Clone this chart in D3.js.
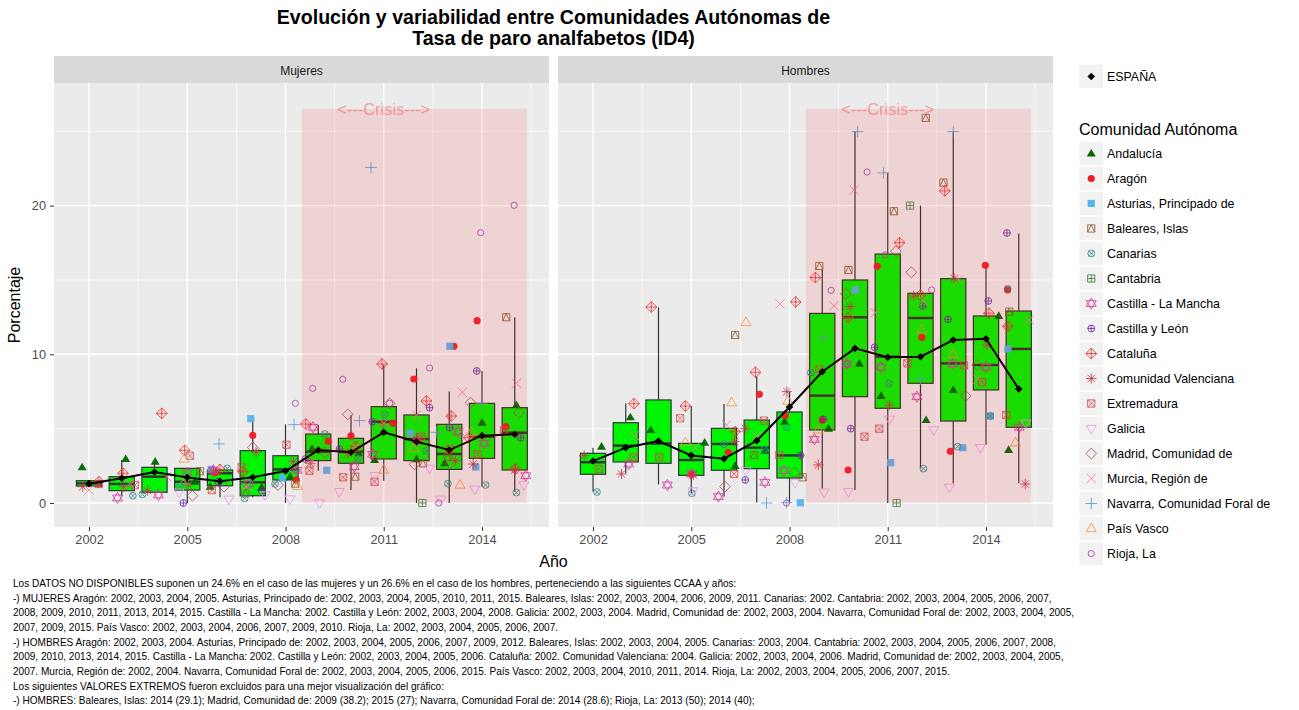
<!DOCTYPE html>
<html><head><meta charset="utf-8">
<script src="https://cdn.jsdelivr.net/npm/d3@7"></script>
<style>html,body{margin:0;padding:0;background:#fff}svg{display:block}text{font-family:"Liberation Sans",Arial,sans-serif}</style>
</head><body><svg id="c" width="1299" height="710"></svg>
<script>
const years = [2002,2003,2004,2005,2006,2007,2008,2009,2010,2011,2012,2013,2014,2015];
const xTicks = [2002,2005,2008,2011,2014];
const xMinor = [2003.5,2006.5,2009.5,2012.5,2015.5];
const yTicks = [0,10,20];
const yMinor = [5,15,25];

// Box statistics: women
const mLo  = [1.14,0.45,0.72,0,0.38,0.38,0,2.17,0.87,1.5,0,0,1.1,0.76];
const mQ1  = [1.14,0.83,0.72,0.87,1.16,0.49,1.55,2.85,2.67,2.96,2.85,2.26,3.0,2.22];
const mMed = [1.32,1.28,1.77,1.43,2.0,1.39,2.26,3.45,3.45,5.47,4.3,3.3,4.46,4.73];
const mQ3  = [1.5,1.77,2.4,2.33,2.22,3.52,3.18,4.64,4.35,6.48,5.92,5.29,6.7,6.41];
const mHi  = [1.5,2.89,2.75,2.33,2.22,5.58,5.29,5.25,5.92,9.28,9.06,7.49,8.88,12.49];
const mEsp = [1.3,1.66,2.08,1.72,1.46,1.73,2.15,3.56,3.41,4.75,4.12,3.56,4.53,4.62];
// Box statistics: men
const hLo  = [0.76,2.0,1.25,0.65,0.42,0.04,0.04,0.98,0.87,0,2.33,1.32,3.9,1.32];
const hQ1  = [1.93,2.76,2.67,1.86,2.2,2.31,1.68,4.91,7.15,6.37,8.05,5.51,7.6,5.09];
const hMed = [2.74,3.86,4.0,2.89,3.97,3.72,3.2,7.22,12.49,9.84,12.44,9.39,9.28,10.36];
const hQ3  = [3.34,5.4,6.93,4.01,5.02,5.58,6.12,12.75,15.0,16.74,14.1,15.09,12.58,12.91];
const hHi  = [3.72,6.7,13.16,6.52,6.66,8.5,7.49,15.67,24.97,22.2,20.0,24.97,16.0,18.13];
const hEsp = [2.82,3.72,4.17,3.2,2.98,4.19,6.46,8.83,10.4,9.8,9.84,10.96,11.05,7.67];

const regions = ["Andalucía","Aragón","Asturias, Principado de","Baleares, Islas","Canarias","Cantabria","Castilla - La Mancha","Castilla y León","Cataluña","Comunidad Valenciana","Extremadura","Galicia","Madrid, Comunidad de","Murcia, Región de","Navarra, Comunidad Foral de","País Vasco","Rioja, La"];
const regionColors = ["#006400","#ee1c25","#56b4e9","#8b5a2b","#2e8b87","#3f7f3f","#d63aa0","#6a2aa6","#f22c2c","#c0384a","#d9444b","#ee99ee","#a85050","#f57a9a","#5b9bd0","#f59340","#a040b0"];
const regionShapes = [17,16,15,14,13,12,11,10,9,8,7,6,5,4,3,2,1];

// Observed points: [jittered year, percent]
const mAnd = [[2001.79,2.4],[2003.12,2.96],[2004.02,2.78],[2005.23,1.43],[2005.7,1.1],[2007.27,1.05],[2008.14,1.77],[2008.81,3.63],[2010.23,3.34],[2010.72,2.89],[2012,2.94],[2012.86,2.67],[2014,5.4],[2015.05,6.59]];
const mAra = [[2005.85,2.04],[2007,4.55],[2008.33,1.55],[2009.3,4.15],[2010,4.51],[2011.28,5.36],[2011.92,8.34],[2013.14,10.54],[2013.85,12.26],[2014.73,5.13]];
const mAst = [[2005.73,2.26],[2006.94,5.67],[2007.9,1.68],[2009.26,2.2],[2011.82,4.69],[2013.02,10.54],[2013.81,2.42]];
const mBal = [[2005.39,2.13],[2006.77,0.65],[2008.3,1.3],[2010.13,1.77],[2012.2,2.67],[2012.95,3.1],[2014.74,12.49]];
const mCan = [[2003.34,0.49],[2003.63,0.58],[2004.78,1.1],[2006.22,2.33],[2006.75,0.31],[2007.68,1.28],[2009.2,4.64],[2010.21,3.0],[2011.03,5.96],[2012.3,3.5],[2012.96,1.3],[2014.11,1.21],[2015.05,0.7]];
const mCnt = [[2012.18,0]];
const mClm = [[2002.87,0.34],[2004.12,0.54],[2005,2.04],[2005.8,2.2],[2006.87,1.28],[2008.35,2.2],[2008.84,5.09],[2010.1,2.44],[2010.66,3.27],[2012.02,4.19],[2013.27,4.8],[2014.06,4.01],[2015.34,1.84]];
const mCyl = [[2004.88,0],[2005.95,1.43],[2007.28,0.83],[2008.61,2.96],[2009.65,3.63],[2010.65,5.47],[2012.4,6.41],[2013.01,5.07],[2013.84,8.88],[2015.18,4.39]];
const mCat = [[2002.3,1.43],[2003.04,2.0],[2004.22,6.03],[2004.92,3.54],[2006,2.26],[2006.7,2.1],[2008.62,5.31],[2010.15,3.79],[2010.95,9.35],[2012.3,6.86],[2013.06,5.85],[2013.6,4.39],[2015.02,2.29]];
const mVal = [[2001.81,1.1],[2003.06,1.1],[2003.79,0.83],[2005.03,1.2],[2005.8,2.1],[2007.1,3.43],[2008.24,2.78],[2008.76,2.67],[2009.9,3.34],[2010.98,5.36],[2012,4.3],[2013.19,2.85],[2013.73,2.62],[2015,2.22]];
const mExt = [[2002.3,1.28],[2003.4,1.2],[2005.08,3.18],[2005.75,0.87],[2006.66,2.4],[2008.03,3.92],[2008.73,2.17],[2009.76,1.73],[2010.72,1.43],[2012.14,4.46],[2013.02,3.63],[2013.86,3.27],[2014.67,4.87]];
const mGal = [[2004.75,0.72],[2006.27,0.25],[2007.38,0.54],[2008.14,0.27],[2009.04,0],[2009.64,0.76],[2010.73,1.84],[2012.4,2.33],[2012.74,0.25],[2013.78,0.92],[2015.28,1.21]];
const mMad = [[2005.16,0.49],[2006.12,1.1],[2007,3.74],[2007.77,1.21],[2009.19,3.39],[2009.9,5.96],[2011.18,6.7],[2011.94,2.6],[2013.04,2.67],[2013.65,6.75],[2015.13,6.08]];
const mMur = [[2002,0.87],[2003.24,1.28],[2004.37,1.77],[2004.88,1.55],[2006.8,1.1],[2008.24,2.44],[2008.79,2.78],[2010.13,3.79],[2011,5.36],[2012,5.92],[2013.4,7.44],[2013.65,4.35],[2015.05,8.05]];
const mNav = [[2005.97,3.97],[2008.26,5.27],[2010.26,5.54],[2010.61,22.56],[2012.61,4.75],[2014,6.7]];
const mVas = [[2004.9,2.96],[2008.37,1.12],[2011,2.22],[2011.92,3.68],[2013.33,1.21],[2013.68,4.75]];
const mRio = [[2008.3,6.7],[2008.83,7.71],[2009.75,8.32],[2011.18,6.7],[2012.4,9.08],[2012.68,0],[2013.96,18.18],[2014.98,20.02]];

const hAnd = [[2002.26,3.79],[2003.14,5.76],[2003.76,4.91],[2005.41,4.06],[2006.34,2.49],[2007.25,3.52],[2007.85,5.47],[2009.19,5],[2010.13,9.37],[2010.8,7.2],[2012.17,5.58],[2013,7.6],[2014.39,12.58],[2014.69,3.57]];
const hAra = [[2005,1.93],[2006.13,3.41],[2007.08,7.31],[2007.87,5.87],[2009,5.58],[2009.79,2.22],[2010.68,15.92],[2012.04,11.14],[2012.91,3.48],[2013.98,15.99],[2014.66,14.33]];
const hAst = [[2008.33,0.02],[2010.01,14.33],[2011.09,2.71],[2013.29,3.72],[2014.13,5.85],[2014.67,10.36]];
const hBal = [[2006.34,11.3],[2006.92,3.23],[2008.4,1.73],[2008.91,15.94],[2009.8,15.67],[2011.19,19.62],[2012.16,25.9],[2012.7,21.55],[2014.71,12.87]];
const hCan = [[2002.12,0.74],[2005.02,0.65],[2006,3.95],[2007.23,3.6],[2007.92,5.09],[2008.65,8.77],[2009.75,9.35],[2011.04,8.03],[2012.09,2.31],[2013.13,3.79],[2014.13,5.85],[2014.66,14.4]];
const hCnt = [[2011.27,0],[2011.68,20]];
const hClm = [[2003.09,2.62],[2004.27,1.21],[2005,1.95],[2005.83,0.43],[2007.25,1.39],[2007.83,2.17],[2008.76,4.28],[2009.75,9.35],[2010.79,9.13],[2011.89,7.15],[2012.98,9.35],[2014,9.13],[2015.01,5.09]];
const hCyl = [[2006.65,1.55],[2008.34,3.2],[2009.03,5.63],[2009.87,5],[2010.6,10.47],[2012.07,13.25],[2012.84,12.35],[2014.07,13.59],[2014.64,18.16]];
const hCat = [[2003.25,6.68],[2003.78,13.18],[2004.82,6.52],[2006.34,4.8],[2006.96,8.79],[2008.19,13.52],[2008.79,15.16],[2009.79,12.47],[2011.36,17.51],[2012,13.99],[2012.74,20.99],[2014.09,12.76],[2014.67,11.88]];
const hVal = [[2001.73,3.18],[2002.87,1.95],[2005.06,1.88],[2006.32,4.13],[2006.65,5.02],[2007.92,7.49],[2008.88,2.56],[2009.85,13.21],[2011.05,6.59],[2011.79,13.92],[2013.03,15.11],[2014.03,10.63],[2015.2,1.28]];
const hExt = [[2002.18,2.29],[2003.24,3.07],[2004.02,3.07],[2004.66,5.7],[2006.31,1.95],[2007.22,5.54],[2007.69,3.23],[2008.91,8.99],[2010.29,4.46],[2010.74,5],[2011.6,9.39],[2013.33,9.26],[2013.88,8.12],[2014.62,5.92]];
const hGal = [[2005.05,0.81],[2006.67,2.17],[2008.17,1.37],[2009.06,0.72],[2009.8,0.76],[2011.05,5.63],[2012.4,4.91],[2012.88,1.05],[2013.83,3.72],[2015.22,5.36]];
const hMad = [[2006.03,1.1],[2008.15,2.04],[2009.72,14.06],[2011.25,16.93],[2011.72,15.52],[2013.38,7.2],[2013.73,9.28]];
const hMur = [[2003.27,4.53],[2005.11,3.72],[2006.08,5.25],[2007,4.53],[2007.71,13.39],[2009.36,13.25],[2009.97,21.05],[2010.62,12.8],[2012.09,13.54],[2013.16,15],[2013.75,8.32],[2015.32,12.31]];
const hNav = [[2007.3,0],[2007.91,0.02],[2009.03,11.12],[2010.08,24.98],[2010.87,22.2],[2012,8.34],[2013,24.98]];
const hVas = [[2004.82,4.06],[2006.23,6.75],[2006.67,12.15],[2007.95,6.86],[2008.88,4.91],[2012.03,11.64],[2013,10],[2014.9,4.06]];
const hRio = [[2007.91,0],[2009.27,14.3],[2010.37,22.26],[2010.92,16.68],[2012.34,14.33]];

const mSeries = [mAnd,mAra,mAst,mBal,mCan,mCnt,mClm,mCyl,mCat,mVal,mExt,mGal,mMad,mMur,mNav,mVas,mRio];
const hSeries = [hAnd,hAra,hAst,hBal,hCan,hCnt,hClm,hCyl,hCat,hVal,hExt,hGal,hMad,hMur,hNav,hVas,hRio];

const notes = [
"Los DATOS NO DISPONIBLES suponen un 24.6% en el caso de las mujeres y un 26.6% en el caso de los hombres, perteneciendo a las siguientes CCAA y años:",
"-) MUJERES Aragón: 2002, 2003, 2004, 2005. Asturias, Principado de: 2002, 2003, 2004, 2005, 2010, 2011, 2015. Baleares, Islas: 2002, 2003, 2004, 2006, 2009, 2011. Canarias: 2002. Cantabria: 2002, 2003, 2004, 2005, 2006, 2007,",
"2008, 2009, 2010, 2011, 2013, 2014, 2015. Castilla - La Mancha: 2002. Castilla y León: 2002, 2003, 2004, 2008. Galicia: 2002, 2003, 2004. Madrid, Comunidad de: 2002, 2003, 2004. Navarra, Comunidad Foral de: 2002, 2003, 2004, 2005,",
"2007, 2009, 2015. País Vasco: 2002, 2003, 2004, 2006, 2007, 2009, 2010. Rioja, La: 2002, 2003, 2004, 2005, 2006, 2007.",
"-) HOMBRES Aragón: 2002, 2003, 2004. Asturias, Principado de: 2002, 2003, 2004, 2005, 2006, 2007, 2009, 2012. Baleares, Islas: 2002, 2003, 2004, 2005. Canarias: 2003, 2004. Cantabria: 2002, 2003, 2004, 2005, 2006, 2007, 2008,",
"2009, 2010, 2013, 2014, 2015. Castilla - La Mancha: 2002. Castilla y León: 2002, 2003, 2004, 2005, 2006. Cataluña: 2002. Comunidad Valenciana: 2004. Galicia: 2002, 2003, 2004, 2006. Madrid, Comunidad de: 2002, 2003, 2004, 2005,",
"2007. Murcia, Región de: 2002, 2004. Navarra, Comunidad Foral de: 2002, 2003, 2004, 2005, 2006, 2015. País Vasco: 2002, 2003, 2004, 2010, 2011, 2014. Rioja, La: 2002, 2003, 2004, 2005, 2006, 2007, 2015.",
"Los siguientes VALORES EXTREMOS fueron excluidos para una mejor visualización del gráfico:",
"-) HOMBRES: Baleares, Islas: 2014 (29.1); Madrid, Comunidad de: 2009 (38.2); 2015 (27); Navarra, Comunidad Foral de: 2014 (28.6); Rioja, La: 2013 (50); 2014 (40);"
];

const svg = d3.select("#c");
const panelTop = 83, panelBottom = 527, panelW = 495;
const y = d3.scaleLinear().domain([-1.614,28.245]).range([panelBottom,panelTop]);

// ---- marker geometry
const S = 3.6, D = 5.4, C = 3.4;
const square = `M${-S},${-S}H${S}V${S}H${-S}Z`;
const diamond = `M0,${-D}L${D},0L0,${D}L${-D},0Z`;
const espDiamond = "M0,-3.8L3.8,0L0,3.8L-3.8,0Z";
const circle = r => `M${r},0A${r},${r} 0 1,1 ${-r},0A${r},${r} 0 1,1 ${r},0Z`;
const plus = r => `M${-r},0H${r}M0,${-r}V${r}`;
const cross = r => `M${-r},${-r}L${r},${r}M${-r},${r}L${r},${-r}`;
const triUp = "M0,-5.4L5,3.2H-5Z", triDown = "M0,5.4L5,-3.2H-5Z";
const glyphs = {
  17:["M0,-4.6L4.5,3H-4.5Z",true], 16:[circle(3.6),true], 15:[square,true],
  14:[square+`M0,${-S}L${S},${S}M0,${-S}L${-S},${S}`,false],
  13:[circle(C)+cross(C*0.8),false], 12:[square+plus(S),false],
  11:["M0,-5.6L5,2.9H-5ZM0,5.6L5,-2.9H-5Z",false], 10:[circle(C)+plus(C),false],
  9:[diamond+plus(D),false], 8:[plus(5.2)+cross(3.7),false], 7:[square+cross(S),false],
  6:[triDown,false], 5:[diamond,false], 4:[cross(4.6),false], 3:[plus(5.8),false],
  2:[triUp,false], 1:[circle(3.1),false]
};
function marker(g,shape,color,px,py,op){
  const [d,filled] = glyphs[shape];
  g.append("path").attr("d",d).attr("transform",`translate(${px},${py})`)
    .attr("fill",filled?color:"none").attr("stroke",filled?"none":color)
    .attr("stroke-width",0.85).attr("opacity",op);
}

// ---- panels
function panel(left,title,lo,q1,med,q3,hi,esp,series){
  const x = d3.scaleLinear().domain([2000.931,2016.046]).range([left,left+panelW]);
  const g = svg.append("g");
  g.append("rect").attr("x",left).attr("y",56).attr("width",panelW).attr("height",27).attr("fill","#d9d9d9");
  g.append("text").attr("x",left+panelW/2).attr("y",74.5).attr("text-anchor","middle").attr("font-size",12).attr("fill","#1a1a1a").text(title);
  g.append("rect").attr("x",left).attr("y",panelTop).attr("width",panelW).attr("height",panelBottom-panelTop).attr("fill","#ebebeb");
  // grid
  xMinor.forEach(v=>g.append("line").attr("x1",x(v)).attr("x2",x(v)).attr("y1",panelTop).attr("y2",panelBottom).attr("stroke","#fff").attr("stroke-width",0.7));
  yMinor.forEach(v=>g.append("line").attr("x1",left).attr("x2",left+panelW).attr("y1",y(v)).attr("y2",y(v)).attr("stroke","#fff").attr("stroke-width",0.7));
  xTicks.forEach(v=>g.append("line").attr("x1",x(v)).attr("x2",x(v)).attr("y1",panelTop).attr("y2",panelBottom).attr("stroke","#fff").attr("stroke-width",1.4));
  yTicks.forEach(v=>g.append("line").attr("x1",left).attr("x2",left+panelW).attr("y1",y(v)).attr("y2",y(v)).attr("stroke","#fff").attr("stroke-width",1.4));
  // boxplots
  const bw = x(2002.385)-x(2002);
  years.forEach((yr,i)=>{
    const cx = x(yr);
    g.append("line").attr("x1",cx).attr("x2",cx).attr("y1",y(hi[i])).attr("y2",y(q3[i])).attr("stroke","#333").attr("stroke-width",1.2);
    g.append("line").attr("x1",cx).attr("x2",cx).attr("y1",y(q1[i])).attr("y2",y(lo[i])).attr("stroke","#333").attr("stroke-width",1.2);
    g.append("rect").attr("x",cx-bw).attr("width",2*bw).attr("y",y(q3[i])).attr("height",y(q1[i])-y(q3[i])).attr("fill","#00f500").attr("stroke","#333").attr("stroke-width",1.2);
    g.append("line").attr("x1",cx-bw).attr("x2",cx+bw).attr("y1",y(med[i])).attr("y2",y(med[i])).attr("stroke","#333").attr("stroke-width",2.4);
  });
  // points
  series.forEach((pts,i)=>pts.forEach(p=>marker(g,regionShapes[i],regionColors[i],x(p[0]),y(p[1]),0.95)));
  // national line
  const line = d3.line().x((d,i)=>x(years[i])).y(d=>y(d));
  g.append("path").attr("d",line(esp)).attr("fill","none").attr("stroke","#000").attr("stroke-width",2);
  esp.forEach((v,i)=>g.append("path").attr("d",espDiamond).attr("transform",`translate(${x(years[i])},${y(v)})`).attr("fill","#000"));
  // crisis band
  g.append("rect").attr("x",x(2008.5)).attr("width",x(2015.37)-x(2008.5)).attr("y",y(26.5)).attr("height",y(0)-y(26.5)).attr("fill","#ff0000").attr("opacity",0.1);
  g.append("text").attr("x",x(2011)).attr("y",y(26.5)+6.5).attr("text-anchor","middle").attr("font-size",16.4).attr("fill","#ff0000").attr("opacity",0.32).text("<---Crisis--->");
  // axes
  const ax = g.append("g").attr("transform",`translate(0,${panelBottom})`).call(d3.axisBottom(x).tickValues(xTicks).tickFormat(d3.format("d")).tickSize(4).tickPadding(4));
  ax.select(".domain").remove();
  ax.selectAll("line").attr("stroke","#333");
  ax.selectAll("text").attr("font-size",12.8).attr("fill","#4d4d4d").attr("font-family","Liberation Sans");
  return x;
}
panel(54,"Mujeres",mLo,mQ1,mMed,mQ3,mHi,mEsp,mSeries);
panel(558,"Hombres",hLo,hQ1,hMed,hQ3,hHi,hEsp,hSeries);

const ay = svg.append("g").attr("transform","translate(54,0)").call(d3.axisLeft(y).tickValues(yTicks).tickSize(4).tickPadding(4));
ay.select(".domain").remove();
ay.selectAll("line").attr("stroke","#333");
ay.selectAll("text").attr("font-size",12.8).attr("fill","#4d4d4d").attr("font-family","Liberation Sans");

// ---- titles
svg.append("text").attr("x",553.5).attr("y",24).attr("text-anchor","middle").attr("font-size",19.6).attr("font-weight","bold").text("Evolución y variabilidad entre Comunidades Autónomas de");
svg.append("text").attr("x",553.5).attr("y",44.5).attr("text-anchor","middle").attr("font-size",19.6).attr("font-weight","bold").text("Tasa de paro analfabetos (ID4)");
svg.append("text").attr("x",553.5).attr("y",567).attr("text-anchor","middle").attr("font-size",16).text("Año");
svg.append("text").attr("transform","translate(20,305) rotate(-90)").attr("text-anchor","middle").attr("font-size",16).text("Porcentaje");

// ---- legend
const keyX = 1079.5, keyS = 23.5;
svg.append("rect").attr("x",keyX).attr("y",64.5).attr("width",keyS).attr("height",keyS).attr("fill","#f2f2f2");
svg.append("path").attr("d",espDiamond).attr("transform",`translate(${keyX+keyS/2},76.5)`).attr("fill","#000");
svg.append("text").attr("x",1107).attr("y",81).attr("font-size",12.4).text("ESPAÑA");
svg.append("text").attr("x",1079).attr("y",135).attr("font-size",16).text("Comunidad Autónoma");
regions.forEach((r,i)=>{
  const cy = 153.5+25*i;
  svg.append("rect").attr("x",keyX).attr("y",cy-keyS/2).attr("width",keyS).attr("height",keyS).attr("fill","#f2f2f2");
  marker(svg,regionShapes[i],regionColors[i],keyX+keyS/2,cy,1);
  svg.append("text").attr("x",1107).attr("y",cy+4.5).attr("font-size",12.4).text(r);
});

// ---- footnotes
notes.forEach((t,i)=>svg.append("text").attr("x",13).attr("y",587+14.65*i).attr("font-size",10.05).text(t));
</script></body></html>
